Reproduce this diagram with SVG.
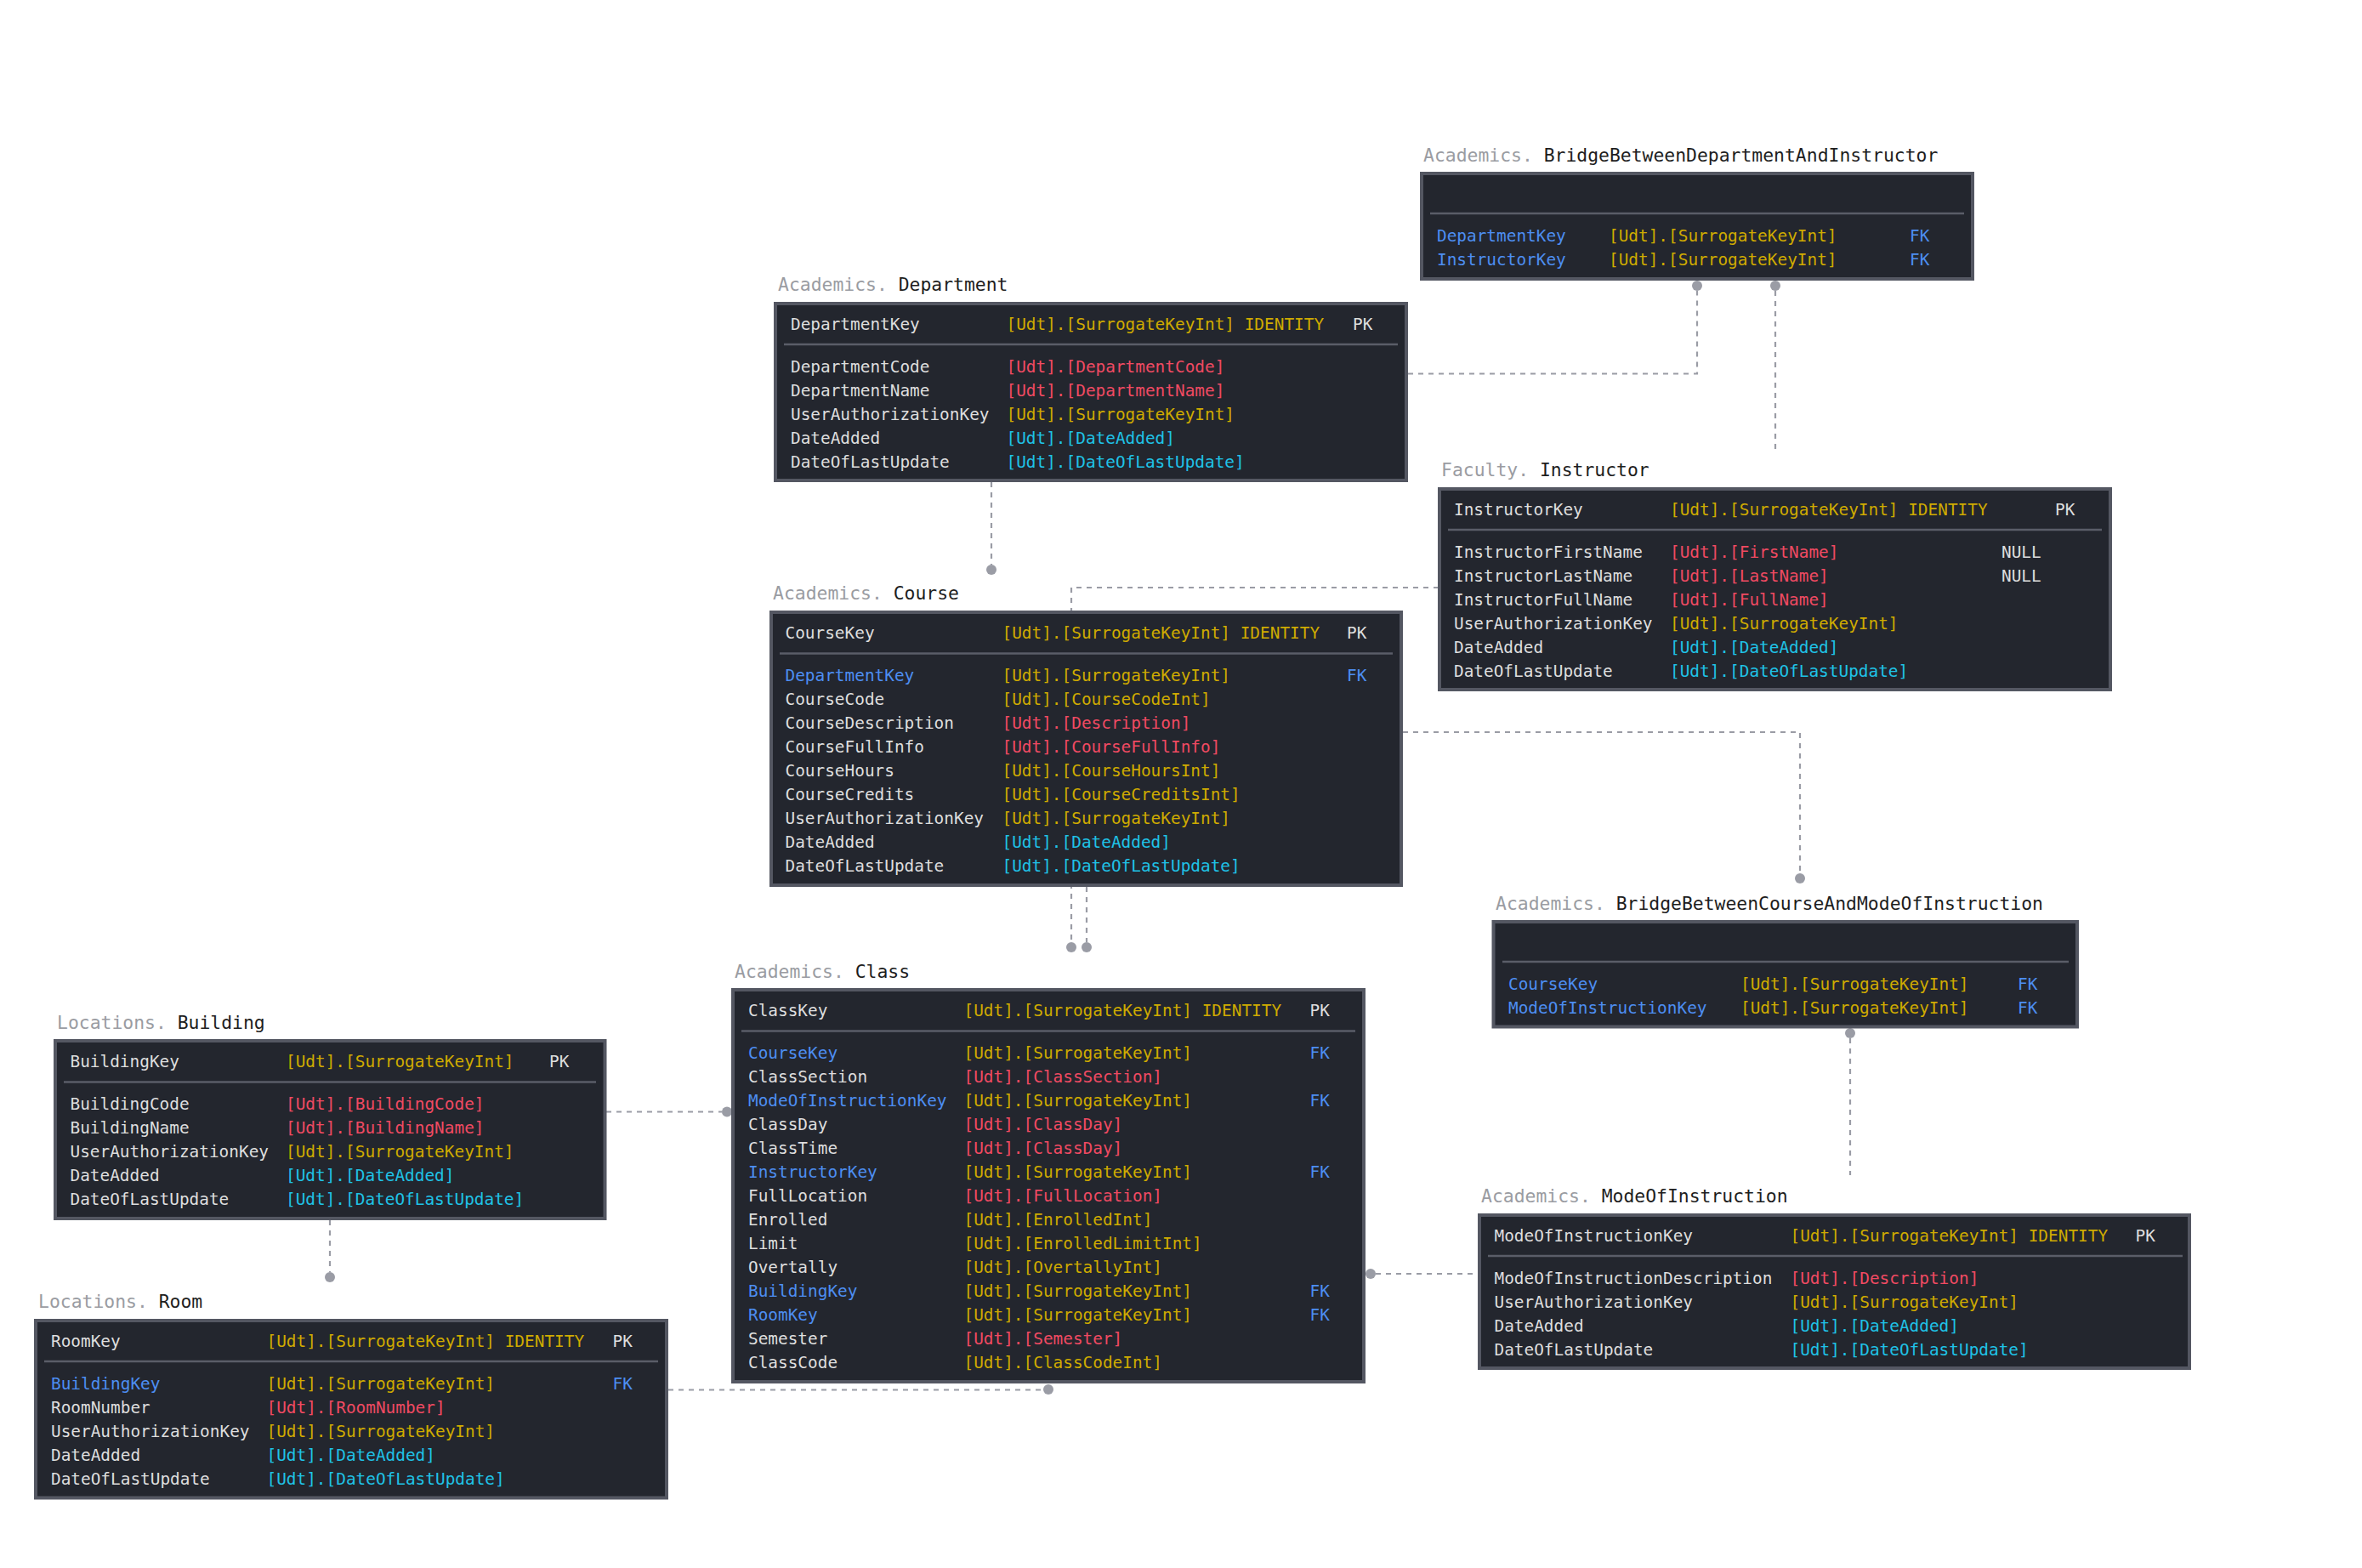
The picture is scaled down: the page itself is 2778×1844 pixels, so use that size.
<svg xmlns="http://www.w3.org/2000/svg" width="2778" height="1844" viewBox="0 0 2778 1844">
<style>
text{font-family:"DejaVu Sans Mono","Liberation Mono",monospace;font-size:19.4px}
.tt{font-size:21.4px}
.sc{fill:#9a9ca2}
.tn{fill:#1e1e1e}
.box{fill:#23262e;stroke:#545762;stroke-width:4}
.sep{stroke:#5a5d68;stroke-width:2.5}
.nm{fill:#dedede}
.fk{fill:#4d8ef2}
.ty{fill:#cfab00}
.rd{fill:#f04a62}
.cy{fill:#1fc2e6}
.conn{fill:none;stroke:#9a9ca5;stroke-width:2.2;stroke-dasharray:6 6}
.dot{fill:#9a9ca5}
</style>
<rect width="2778" height="1844" fill="#ffffff"/>
<g id="connectors">
<path class="conn" d="M1656,439.5 H1996 V342"/><circle class="dot" cx="1996" cy="336" r="6"/>
<path class="conn" d="M2088,342 V530"/><circle class="dot" cx="2088" cy="336" r="6"/>
<path class="conn" d="M1166,567 V664"/><circle class="dot" cx="1166" cy="670" r="6"/>
<path class="conn" d="M1692,691 H1260 V1108"/><circle class="dot" cx="1260" cy="1114" r="6"/>
<path class="conn" d="M1278,1043 V1108"/><circle class="dot" cx="1278" cy="1114" r="6"/>
<path class="conn" d="M1650,861 H2117 V1027"/><circle class="dot" cx="2117" cy="1033" r="6"/>
<path class="conn" d="M2176,1221 V1382"/><circle class="dot" cx="2176" cy="1215" r="6"/>
<path class="conn" d="M1618,1498 H1738"/><circle class="dot" cx="1612" cy="1498" r="6"/>
<path class="conn" d="M713,1307.5 H849"/><circle class="dot" cx="855" cy="1307.5" r="6"/>
<path class="conn" d="M388,1435 V1496"/><circle class="dot" cx="388" cy="1502" r="6"/>
<path class="conn" d="M786,1634.5 H1227"/><circle class="dot" cx="1233" cy="1634" r="6"/>
</g>

<g id="BridgeBetweenDepartmentAndInstructor">
<text class="tt" x="1674" y="190"><tspan class="sc">Academics.</tspan><tspan class="tn"> BridgeBetweenDepartmentAndInstructor</tspan></text>
<rect class="box" x="1672" y="204" width="648" height="124"/>
<line class="sep" x1="1682" y1="251" x2="2310" y2="251"/>
<text class="fk" x="1690" y="284">DepartmentKey</text><text class="ty" x="1892" y="284">[Udt].[SurrogateKeyInt]</text><text class="fk" x="2246" y="284">FK</text>
<text class="fk" x="1690" y="312">InstructorKey</text><text class="ty" x="1892" y="312">[Udt].[SurrogateKeyInt]</text><text class="fk" x="2246" y="312">FK</text>
</g>

<g id="Department">
<text class="tt" x="915" y="342"><tspan class="sc">Academics.</tspan><tspan class="tn"> Department</tspan></text>
<rect class="box" x="912" y="357" width="742" height="208"/>
<line class="sep" x1="922" y1="405" x2="1644" y2="405"/>
<text class="nm" x="930" y="388">DepartmentKey</text><text class="ty" x="1183.5" y="388">[Udt].[SurrogateKeyInt] IDENTITY</text><text class="nm" x="1591" y="388">PK</text>
<text class="nm" x="930" y="438">DepartmentCode</text><text class="rd" x="1183.5" y="438">[Udt].[DepartmentCode]</text>
<text class="nm" x="930" y="466">DepartmentName</text><text class="rd" x="1183.5" y="466">[Udt].[DepartmentName]</text>
<text class="nm" x="930" y="494">UserAuthorizationKey</text><text class="ty" x="1183.5" y="494">[Udt].[SurrogateKeyInt]</text>
<text class="nm" x="930" y="522">DateAdded</text><text class="cy" x="1183.5" y="522">[Udt].[DateAdded]</text>
<text class="nm" x="930" y="550">DateOfLastUpdate</text><text class="cy" x="1183.5" y="550">[Udt].[DateOfLastUpdate]</text>
</g>

<g id="Instructor">
<text class="tt" x="1695" y="560"><tspan class="sc">Faculty.</tspan><tspan class="tn"> Instructor</tspan></text>
<rect class="box" x="1693" y="575" width="789" height="236"/>
<line class="sep" x1="1703" y1="623" x2="2472" y2="623"/>
<text class="nm" x="1710" y="606">InstructorKey</text><text class="ty" x="1964" y="606">[Udt].[SurrogateKeyInt] IDENTITY</text><text class="nm" x="2417" y="606">PK</text>
<text class="nm" x="1710" y="656">InstructorFirstName</text><text class="rd" x="1964" y="656">[Udt].[FirstName]</text><text class="nm" x="2354" y="656">NULL</text>
<text class="nm" x="1710" y="684">InstructorLastName</text><text class="rd" x="1964" y="684">[Udt].[LastName]</text><text class="nm" x="2354" y="684">NULL</text>
<text class="nm" x="1710" y="712">InstructorFullName</text><text class="rd" x="1964" y="712">[Udt].[FullName]</text>
<text class="nm" x="1710" y="740">UserAuthorizationKey</text><text class="ty" x="1964" y="740">[Udt].[SurrogateKeyInt]</text>
<text class="nm" x="1710" y="768">DateAdded</text><text class="cy" x="1964" y="768">[Udt].[DateAdded]</text>
<text class="nm" x="1710" y="796">DateOfLastUpdate</text><text class="cy" x="1964" y="796">[Udt].[DateOfLastUpdate]</text>
</g>

<g id="Course">
<text class="tt" x="909" y="705"><tspan class="sc">Academics.</tspan><tspan class="tn"> Course</tspan></text>
<rect class="box" x="907" y="720" width="741" height="321"/>
<line class="sep" x1="917" y1="768.5" x2="1638" y2="768.5"/>
<text class="nm" x="923.5" y="751">CourseKey</text><text class="ty" x="1178.5" y="751">[Udt].[SurrogateKeyInt] IDENTITY</text><text class="nm" x="1584" y="751">PK</text>
<text class="fk" x="923.5" y="801">DepartmentKey</text><text class="ty" x="1178.5" y="801">[Udt].[SurrogateKeyInt]</text><text class="fk" x="1584" y="801">FK</text>
<text class="nm" x="923.5" y="829">CourseCode</text><text class="ty" x="1178.5" y="829">[Udt].[CourseCodeInt]</text>
<text class="nm" x="923.5" y="857">CourseDescription</text><text class="rd" x="1178.5" y="857">[Udt].[Description]</text>
<text class="nm" x="923.5" y="885">CourseFullInfo</text><text class="rd" x="1178.5" y="885">[Udt].[CourseFullInfo]</text>
<text class="nm" x="923.5" y="913">CourseHours</text><text class="ty" x="1178.5" y="913">[Udt].[CourseHoursInt]</text>
<text class="nm" x="923.5" y="941">CourseCredits</text><text class="ty" x="1178.5" y="941">[Udt].[CourseCreditsInt]</text>
<text class="nm" x="923.5" y="969">UserAuthorizationKey</text><text class="ty" x="1178.5" y="969">[Udt].[SurrogateKeyInt]</text>
<text class="nm" x="923.5" y="997">DateAdded</text><text class="cy" x="1178.5" y="997">[Udt].[DateAdded]</text>
<text class="nm" x="923.5" y="1025">DateOfLastUpdate</text><text class="cy" x="1178.5" y="1025">[Udt].[DateOfLastUpdate]</text>
</g>

<g id="BridgeBetweenCourseAndModeOfInstruction">
<text class="tt" x="1759" y="1070"><tspan class="sc">Academics.</tspan><tspan class="tn"> BridgeBetweenCourseAndModeOfInstruction</tspan></text>
<rect class="box" x="1756.5" y="1084" width="686.5" height="123.5"/>
<line class="sep" x1="1767" y1="1131" x2="2433" y2="1131"/>
<text class="fk" x="1774" y="1164">CourseKey</text><text class="ty" x="2047" y="1164">[Udt].[SurrogateKeyInt]</text><text class="fk" x="2373" y="1164">FK</text>
<text class="fk" x="1774" y="1192">ModeOfInstructionKey</text><text class="ty" x="2047" y="1192">[Udt].[SurrogateKeyInt]</text><text class="fk" x="2373" y="1192">FK</text>
</g>

<g id="Class">
<text class="tt" x="864" y="1150"><tspan class="sc">Academics.</tspan><tspan class="tn"> Class</tspan></text>
<rect class="box" x="862" y="1164" width="742" height="461"/>
<line class="sep" x1="872" y1="1212.5" x2="1594" y2="1212.5"/>
<text class="nm" x="880" y="1195">ClassKey</text><text class="ty" x="1133.5" y="1195">[Udt].[SurrogateKeyInt] IDENTITY</text><text class="nm" x="1540.5" y="1195">PK</text>
<text class="fk" x="880" y="1245">CourseKey</text><text class="ty" x="1133.5" y="1245">[Udt].[SurrogateKeyInt]</text><text class="fk" x="1540.5" y="1245">FK</text>
<text class="nm" x="880" y="1273">ClassSection</text><text class="rd" x="1133.5" y="1273">[Udt].[ClassSection]</text>
<text class="fk" x="880" y="1301">ModeOfInstructionKey</text><text class="ty" x="1133.5" y="1301">[Udt].[SurrogateKeyInt]</text><text class="fk" x="1540.5" y="1301">FK</text>
<text class="nm" x="880" y="1329">ClassDay</text><text class="rd" x="1133.5" y="1329">[Udt].[ClassDay]</text>
<text class="nm" x="880" y="1357">ClassTime</text><text class="rd" x="1133.5" y="1357">[Udt].[ClassDay]</text>
<text class="fk" x="880" y="1385">InstructorKey</text><text class="ty" x="1133.5" y="1385">[Udt].[SurrogateKeyInt]</text><text class="fk" x="1540.5" y="1385">FK</text>
<text class="nm" x="880" y="1413">FullLocation</text><text class="rd" x="1133.5" y="1413">[Udt].[FullLocation]</text>
<text class="nm" x="880" y="1441">Enrolled</text><text class="ty" x="1133.5" y="1441">[Udt].[EnrolledInt]</text>
<text class="nm" x="880" y="1469">Limit</text><text class="ty" x="1133.5" y="1469">[Udt].[EnrolledLimitInt]</text>
<text class="nm" x="880" y="1497">Overtally</text><text class="ty" x="1133.5" y="1497">[Udt].[OvertallyInt]</text>
<text class="fk" x="880" y="1525">BuildingKey</text><text class="ty" x="1133.5" y="1525">[Udt].[SurrogateKeyInt]</text><text class="fk" x="1540.5" y="1525">FK</text>
<text class="fk" x="880" y="1553">RoomKey</text><text class="ty" x="1133.5" y="1553">[Udt].[SurrogateKeyInt]</text><text class="fk" x="1540.5" y="1553">FK</text>
<text class="nm" x="880" y="1581">Semester</text><text class="rd" x="1133.5" y="1581">[Udt].[Semester]</text>
<text class="nm" x="880" y="1609">ClassCode</text><text class="ty" x="1133.5" y="1609">[Udt].[ClassCodeInt]</text>
</g>

<g id="Building">
<text class="tt" x="67" y="1210"><tspan class="sc">Locations.</tspan><tspan class="tn"> Building</tspan></text>
<rect class="box" x="65" y="1224" width="646.5" height="209"/>
<line class="sep" x1="75" y1="1272.5" x2="701" y2="1272.5"/>
<text class="nm" x="82.5" y="1255">BuildingKey</text><text class="ty" x="336" y="1255">[Udt].[SurrogateKeyInt]</text><text class="nm" x="646" y="1255">PK</text>
<text class="nm" x="82.5" y="1305">BuildingCode</text><text class="rd" x="336" y="1305">[Udt].[BuildingCode]</text>
<text class="nm" x="82.5" y="1333">BuildingName</text><text class="rd" x="336" y="1333">[Udt].[BuildingName]</text>
<text class="nm" x="82.5" y="1361">UserAuthorizationKey</text><text class="ty" x="336" y="1361">[Udt].[SurrogateKeyInt]</text>
<text class="nm" x="82.5" y="1389">DateAdded</text><text class="cy" x="336" y="1389">[Udt].[DateAdded]</text>
<text class="nm" x="82.5" y="1417">DateOfLastUpdate</text><text class="cy" x="336" y="1417">[Udt].[DateOfLastUpdate]</text>
</g>

<g id="Room">
<text class="tt" x="45" y="1537.5"><tspan class="sc">Locations.</tspan><tspan class="tn"> Room</tspan></text>
<rect class="box" x="42" y="1553" width="742" height="208.5"/>
<line class="sep" x1="52" y1="1601" x2="774" y2="1601"/>
<text class="nm" x="60" y="1583.5">RoomKey</text><text class="ty" x="313.5" y="1583.5">[Udt].[SurrogateKeyInt] IDENTITY</text><text class="nm" x="720.5" y="1583.5">PK</text>
<text class="fk" x="60" y="1633.5">BuildingKey</text><text class="ty" x="313.5" y="1633.5">[Udt].[SurrogateKeyInt]</text><text class="fk" x="720.5" y="1633.5">FK</text>
<text class="nm" x="60" y="1661.5">RoomNumber</text><text class="rd" x="313.5" y="1661.5">[Udt].[RoomNumber]</text>
<text class="nm" x="60" y="1689.5">UserAuthorizationKey</text><text class="ty" x="313.5" y="1689.5">[Udt].[SurrogateKeyInt]</text>
<text class="nm" x="60" y="1717.5">DateAdded</text><text class="cy" x="313.5" y="1717.5">[Udt].[DateAdded]</text>
<text class="nm" x="60" y="1745.5">DateOfLastUpdate</text><text class="cy" x="313.5" y="1745.5">[Udt].[DateOfLastUpdate]</text>
</g>

<g id="ModeOfInstruction">
<text class="tt" x="1742" y="1413.5"><tspan class="sc">Academics.</tspan><tspan class="tn"> ModeOfInstruction</tspan></text>
<rect class="box" x="1740" y="1429" width="835" height="180"/>
<line class="sep" x1="1750" y1="1477" x2="2567" y2="1477"/>
<text class="nm" x="1757.5" y="1460">ModeOfInstructionKey</text><text class="ty" x="2105.5" y="1460">[Udt].[SurrogateKeyInt] IDENTITY</text><text class="nm" x="2511.5" y="1460">PK</text>
<text class="nm" x="1757.5" y="1509.5">ModeOfInstructionDescription</text><text class="rd" x="2105.5" y="1509.5">[Udt].[Description]</text>
<text class="nm" x="1757.5" y="1537.5">UserAuthorizationKey</text><text class="ty" x="2105.5" y="1537.5">[Udt].[SurrogateKeyInt]</text>
<text class="nm" x="1757.5" y="1565.5">DateAdded</text><text class="cy" x="2105.5" y="1565.5">[Udt].[DateAdded]</text>
<text class="nm" x="1757.5" y="1593.5">DateOfLastUpdate</text><text class="cy" x="2105.5" y="1593.5">[Udt].[DateOfLastUpdate]</text>
</g>
</svg>
